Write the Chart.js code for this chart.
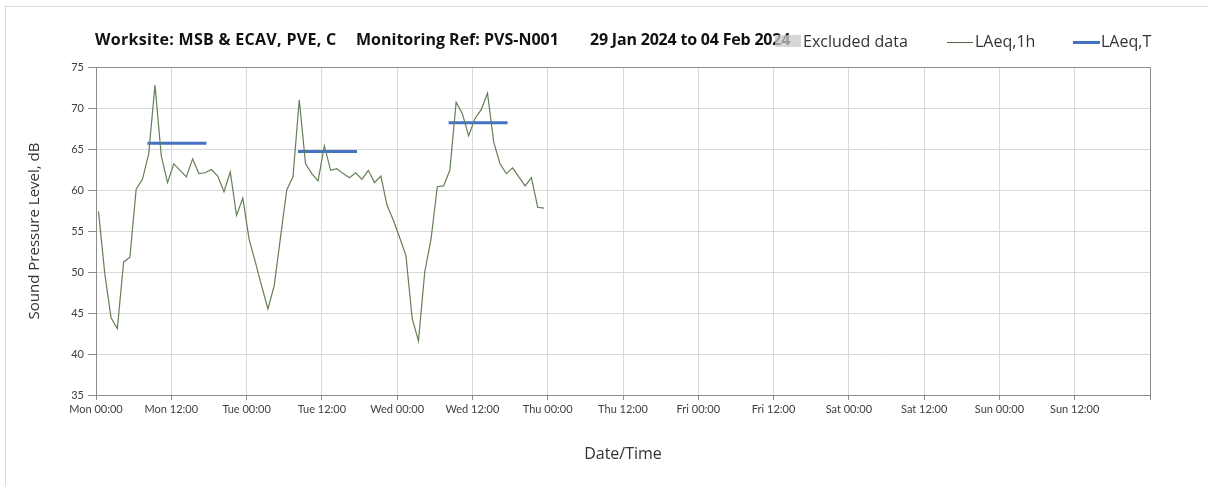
<!DOCTYPE html>
<html lang="en">
<head>
  <meta charset="UTF-8">
  <title>Noise Monitoring PVS-N001</title>
  <script src="https://cdn.jsdelivr.net/npm/chart.js"></script>
  <style>
    html, body { margin: 0; padding: 0; background: #fff; overflow: hidden; }
    #wrap { position: relative; width: 1208px; height: 486px; font-family: "Open Sans", Lato, sans-serif; }
    #frame { position: absolute; left: 5px; top: 6px; width: 1400px; height: 700px; border-left: 1px solid #d9d9d9; border-top: 1px solid #d9d9d9; }
    canvas { position: absolute; left: 0; top: 0; }
    .ttl { position: absolute; top: 30px; font-size: 16px; line-height: 19px; font-weight: bold; color: #111; white-space: pre; }
    .leg { position: absolute; top: 31px; font-size: 16px; line-height: 20px; color: #333; white-space: pre; }
    .swatch { position: absolute; }
  </style>
</head>
<body>
<div id="wrap">
  <div id="frame"></div>
  <canvas id="noise-chart" width="1208" height="486"></canvas>

  <!-- Title -->
  <div class="ttl" style="left:95px;letter-spacing:0.3px">Worksite: MSB &amp; ECAV, PVE, C</div>
  <div class="ttl" style="left:356px">Monitoring Ref: PVS-N001</div>
  <div class="ttl" style="left:590px;letter-spacing:-0.2px">29 Jan 2024 to 04 Feb 2024</div>

  <!-- Legend -->
  <div class="swatch" style="left:775px;top:35px;width:26px;height:12px;background:rgba(200,200,200,0.75)"></div>
  <div class="leg" style="left:803px">Excluded data</div>
  <div class="swatch" style="left:947px;top:42px;width:26px;height:1px;background:#55694a"></div>
  <div class="leg" style="left:975px">LAeq,1h</div>
  <div class="swatch" style="left:1073px;top:41px;width:27px;height:3px;background:#4472c4"></div>
  <div class="leg" style="left:1101px">LAeq,T</div>
</div>

<script>
// hourly LAeq,1h readings from Mon 00:00 (first record at 00:24)
const firstRecord = 0.4;
const laeq1h = [
  57.4, 49.8, 44.4, 43.1, 51.2, 51.8, 60.1, 61.3, 64.4, 72.8, 64.2, 60.9,
  63.2, 62.4, 61.6, 63.8, 62.0, 62.1, 62.5, 61.7, 59.8, 62.2, 56.9, 59.0,
  54.0, 51.2, 48.3, 45.5, 48.3, 54.2, 60.0, 61.6, 71.0, 63.2, 62.0, 61.1,
  65.4, 62.4, 62.6, 62.0, 61.5, 62.1, 61.3, 62.4, 60.9, 61.7, 58.1, 56.3,
  54.2, 52.0, 44.3, 41.6, 50.0, 54.0, 60.4, 60.5, 62.4, 70.7, 69.3, 66.6,
  68.7, 69.8, 71.8, 65.8, 63.2, 62.0, 62.7, 61.6, 60.5, 61.5, 57.9, 57.8
];

// LAeq,T daytime periods (hours from Mon 00:00)
const periodStart = [8.2, 32.2, 56.2];
const periodEnd = [17.6, 41.6, 65.6];
const laeqT = [65.7, 64.7, 68.2];

const xTickLabels = [
  'Mon 00:00', 'Mon 12:00', 'Tue 00:00', 'Tue 12:00', 'Wed 00:00', 'Wed 12:00',
  'Thu 00:00', 'Thu 12:00', 'Fri 00:00', 'Fri 12:00', 'Sat 00:00', 'Sat 12:00',
  'Sun 00:00', 'Sun 12:00', ''
];
const yTicks = [35, 40, 45, 50, 55, 60, 65, 70, 75];

const hourlyPoints = laeq1h.map((v, i) => ({ x: i + firstRecord, y: v }));
const periodPoints = [];
laeqT.forEach((v, i) => {
  periodPoints.push({ x: periodStart[i], y: v });
  periodPoints.push({ x: periodEnd[i], y: v });
  periodPoints.push({ x: periodEnd[i], y: null });
});

// draw top and right edges of the plot box
const plotBorder = {
  id: 'plotBorder',
  afterDraw(chart) {
    const { ctx, chartArea: a } = chart;
    ctx.save();
    ctx.strokeStyle = '#8c8c8c';
    ctx.lineWidth = 1;
    ctx.beginPath();
    ctx.moveTo(a.left, a.top + 0.5);
    ctx.lineTo(a.right + 0.5, a.top + 0.5);
    ctx.lineTo(a.right + 0.5, a.bottom + 4);
    ctx.stroke();
    ctx.restore();
  }
};

const tickFont = { family: 'Lato, "Open Sans", sans-serif', size: 11 };
const titleFont = { family: '"Open Sans", Lato, sans-serif', size: 15 };

new Chart(document.getElementById('noise-chart'), {
  type: 'line',
  data: {
    datasets: [
      {
        label: 'LAeq,1h',
        data: hourlyPoints,
        borderColor: '#647f55',
        borderWidth: 1.2,
        pointRadius: 0,
        tension: 0
      },
      {
        label: 'LAeq,T',
        data: periodPoints,
        borderColor: '#4472c4',
        borderWidth: 3,
        pointRadius: 0,
        spanGaps: false
      }
    ]
  },
  options: {
    responsive: false,
    animation: false,
    layout: { padding: { top: 67, right: 58, left: 0, bottom: 0 } },
    plugins: { legend: { display: false }, tooltip: { enabled: false } },
    scales: {
      x: {
        type: 'linear',
        min: 0,
        max: 168,
        afterBuildTicks(scale) {
          scale.ticks = xTickLabels.map((_, i) => ({ value: i * 12 }));
        },
        afterFit(scale) { scale.height = 91; },
        ticks: {
          autoSkip: false,
          maxRotation: 0,
          padding: 3,
          color: '#404040',
          font: tickFont,
          callback: (v, i) => xTickLabels[i]
        },
        grid: { color: '#d9d9d9', tickColor: '#8c8c8c', tickLength: 5 },
        border: { color: '#8c8c8c' },
        title: { display: true, text: 'Date/Time', color: '#333', font: { ...titleFont, size: 16 }, padding: { bottom: 22 } }
      },
      y: {
        min: 35,
        max: 75,
        afterBuildTicks(scale) {
          scale.ticks = yTicks.map(v => ({ value: v }));
        },
        afterFit(scale) { scale.width = 96; },
        ticks: { padding: 4, color: '#404040', font: tickFont },
        grid: { color: '#d9d9d9', tickColor: '#8c8c8c', tickLength: 8 },
        border: { color: '#8c8c8c' },
        title: { display: true, text: 'Sound Pressure Level, dB', color: '#333', font: titleFont, padding: { top: 26 } }
      }
    }
  },
  plugins: [plotBorder]
});
</script>
</body>
</html>
